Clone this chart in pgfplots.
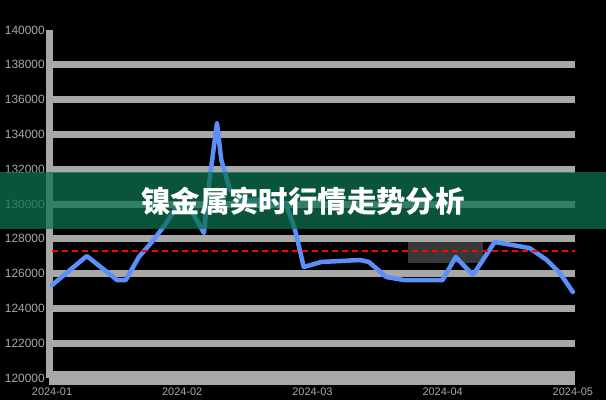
\documentclass[border=0pt]{standalone}
\usepackage{pgfplots}
\pgfplotsset{compat=1.18}
\usepackage{fontspec}
\setmainfont{Liberation Sans}
\newfontfamily\cjk{Noto Sans CJK SC}
\definecolor{gridc}{RGB}{168,168,168}
\definecolor{lineblue}{RGB}{91,143,249}
\definecolor{banner}{RGB}{13,113,80}
\definecolor{boxc}{RGB}{56,56,56}
\begin{document}
\begin{tikzpicture}[x=1bp,y=1bp]
\fill[black] (0,0) rectangle (606,400);
\useasboundingbox (0,0) rectangle (606,400);
\begin{axis}[
  at={(49bp,22bp)}, anchor=south west,
  scale only axis, width=526bp, height=348bp,
  xmin=-0.7, xmax=120.5, ymin=120000, ymax=140000,
  scaled y ticks=false,
  axis x line*=bottom, axis y line*=left,
  x axis line style={gridc, line width=14bp, -},
  y axis line style={gridc, line width=7bp, -},
  major tick length=0pt,
  ytick={120000,122000,124000,126000,128000,130000,132000,134000,136000,138000},
  yticklabels={120000,122000,124000,126000,128000,130000,132000,134000,136000,138000},
  extra y ticks={140000}, extra y tick labels={140000},
  extra y tick style={grid=none},
  ymajorgrids, major grid style={gridc, line width=7bp},
  yticklabel style={font=\fontsize{12}{12}\selectfont, text=gridc, anchor=east, inner sep=0pt, xshift=-4bp},
  xtick={0,30,60,90,120},
  xticklabels={2024-01,2024-02,2024-03,2024-04,2024-05},
  xticklabel style={font=\fontsize{11}{11}\selectfont, text=gridc, anchor=center, inner sep=0pt, yshift=-14bp},
]
\fill[boxc] (axis cs:82,126609) rectangle (axis cs:99.3,127816);
\addplot[lineblue, line width=4.5bp, line join=round, line cap=round, mark=none] coordinates {
(0,125340) (8,127011) (15,125632) (17,125632) (20,126954) (23,127816)
(26,128793) (29,129942) (32,129655) (35,128333) (36,130805) (38,134655)
(39,132529) (41,130805) (44,130230) (49,130230) (54,129942) (56,128506)
(58,126379) (62,126667) (71,126781) (73,126667) (77,125805) (81,125632)
(90,125632) (93,126954) (97,125920) (102,127816) (106,127644) (110,127471)
(114,126781) (117,126034) (120,124942)
};
\addplot[red, line width=1.5bp, dash pattern=on 6bp off 4bp, mark=none] coordinates {(0,127300) (120.5,127300)};
\end{axis}
\fill[banner, opacity=0.75] (0,171) rectangle (606,228);
\node[text=white, inner sep=0pt] at (303,199) {\cjk\bfseries\fontsize{29.5}{30}\selectfont 镍金属实时行情走势分析};
\end{tikzpicture}
\end{document}
